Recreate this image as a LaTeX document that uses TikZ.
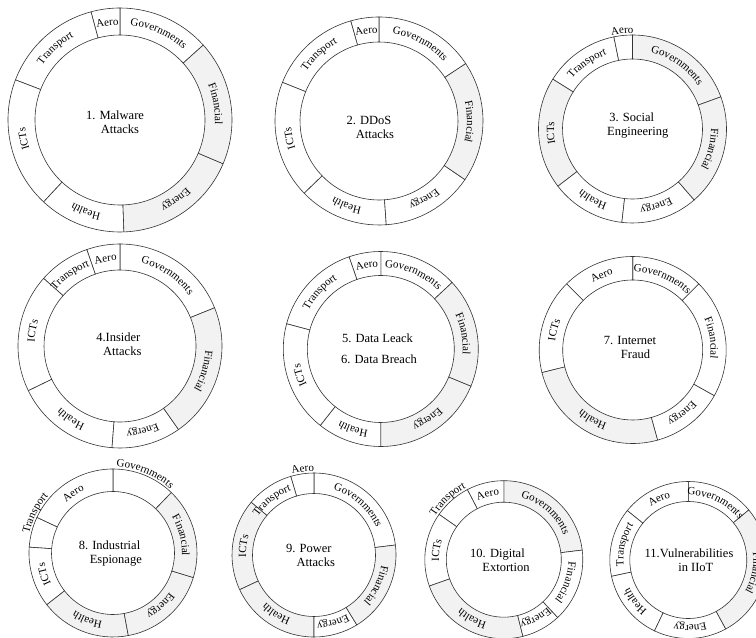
\documentclass[tikz,border=0pt]{standalone}
\usepackage{fontspec}
\setmainfont{Liberation Serif}
\usetikzlibrary{decorations.text}
\newcommand\lblfont{\fontsize{11}{12}\selectfont}
\newcommand\ctrfont{\fontsize{12.5}{14}\selectfont}
\tikzset{
  segline/.style={draw=black!80, line width=0.6pt},
  hot/.style={segline, fill=gray!10},
  cold/.style={segline, fill=white},
  ctr/.style={font=\ctrfont, align=center, inner sep=0pt},
}
\newcommand\ringseg[3]{%
  \path[#3] (#1:\Ro) arc[start angle=#1, end angle=#2, radius=\Ro] -- (#2:\Ri) arc[start angle=#2, end angle=#1, radius=\Ri] -- cycle;}
\newcommand\arclbl[3]{%
  \pgfmathsetmacro\lblA{#1+70}\pgfmathsetmacro\lblB{#1-70}%
  \path[decorate, decoration={text along path, text={|\lblfont|#3}, text align=center}] (\lblA:#2) arc[start angle=\lblA, end angle=\lblB, radius=#2];}
\begin{document}
\begin{tikzpicture}[x=1pt,y=1pt]
\useasboundingbox (0,0) rectangle (756,638);
\clip (0,0) rectangle (756,638);
\fill[white] (0,0) rectangle (756,638);

% Ring 1
\begin{scope}[shift={(120,518)}]\def\Ri{85}\def\Ro{112}\def\Lr{95}
\ringseg{42}{90}{cold}\ringseg{90}{105}{cold}\ringseg{105}{159}{cold}
\ringseg{159}{227}{cold}\ringseg{227}{272}{cold}\ringseg{272}{337}{hot}\ringseg{337}{402}{hot}
\arclbl{66}{\Lr}{Governments}\arclbl{97.5}{\Lr}{Aero}\arclbl{132}{\Lr}{Transport}
\arclbl{191}{\Lr}{ICTs}\arclbl{249.5}{\Lr}{Health}\arclbl{305}{\Lr}{Energy}\arclbl{9.5}{\Lr}{Financial}
\end{scope}
\node[ctr] (t1) at (115,516) {1. Malware\\\hspace*{10pt}Attacks};

% Ring 2
\begin{scope}[shift={(379,517)}]\def\Ri{79}\def\Ro{104}\def\Lr{88}
\ringseg{33.5}{90}{cold}\ringseg{90}{105.8}{cold}\ringseg{105.8}{158.2}{cold}
\ringseg{158.2}{224}{cold}\ringseg{224}{274}{cold}\ringseg{274}{325.7}{cold}\ringseg{325.7}{393.5}{hot}
\arclbl{62}{\Lr}{Governments}\arclbl{98}{\Lr}{Aero}\arclbl{132}{\Lr}{Transport}
\arclbl{191}{\Lr}{ICTs}\arclbl{249}{\Lr}{Health}\arclbl{300}{\Lr}{Energy}\arclbl{359.6}{\Lr}{Financial}
\end{scope}
\node[ctr] (t2) at (369,511) {2. DDoS\\\hspace*{12pt}Attacks};

% Ring 3
\begin{scope}[shift={(632.5,509)}]\def\Ri{70}\def\Ro{94}\def\Lr{78.5}
\ringseg{20}{90}{hot}\ringseg{90}{101.5}{cold}\ringseg{101.5}{148}{cold}
\ringseg{148}{217.5}{hot}\ringseg{217.5}{263.5}{cold}\ringseg{263.5}{311}{cold}\ringseg{311}{380}{hot}
\arclbl{55}{\Lr}{Governments}\arclbl{96}{96}{Aero}\arclbl{124.75}{\Lr}{Transport}
\arclbl{182.75}{\Lr}{ICTs}\arclbl{240.5}{\Lr}{Health}\arclbl{287}{\Lr}{Energy}\arclbl{345.5}{\Lr}{Financial}
\end{scope}
\node[ctr] (t3) at (631.7,512.5) {3. Social\\\hspace*{12pt}Engineering};

% Ring 4
\begin{scope}[shift={(120,292)}]\def\Ri{76}\def\Ro{102}\def\Lr{85.5}
\ringseg{22}{90}{cold}\ringseg{90}{109}{cold}\ringseg{109}{138.5}{cold}
\ringseg{138.5}{206}{cold}\ringseg{206}{265.5}{cold}\ringseg{265.5}{305}{cold}\ringseg{305}{382}{hot}
\arclbl{56}{\Lr}{Governments}\arclbl{99.5}{\Lr}{Aero}\arclbl{125}{\Lr}{Transport}
\arclbl{170}{\Lr}{ICTs}\arclbl{236}{\Lr}{Health}\arclbl{285}{\Lr}{Energy}\arclbl{343.5}{\Lr}{Financial}
\end{scope}
\node[ctr] (t4) at (118.3,294) {4.Insider\\\hspace*{8pt}Attacks};

% Ring 5
\begin{scope}[shift={(380.8,289)}]\def\Ri{73.5}\def\Ro{97.5}\def\Lr{82}
\ringseg{43}{90}{cold}\ringseg{90}{109}{cold}\ringseg{109}{165}{cold}
\ringseg{165}{231.7}{cold}\ringseg{231.7}{270}{cold}\ringseg{270}{337.6}{hot}\ringseg{337.6}{403}{hot}
\arclbl{66.5}{\Lr}{Governments}\arclbl{99.5}{\Lr}{Aero}\arclbl{137}{\Lr}{Transport}
\arclbl{198}{\Lr}{ICTs}\arclbl{250.8}{\Lr}{Health}\arclbl{303.8}{\Lr}{Energy}\arclbl{10.3}{\Lr}{Financial}
\end{scope}
\node[ctr] (t5) at (377.5,289.3) {5. Data Leack\\[6.5pt]\hspace*{3pt}6. Data Breach};

% Ring 7
\begin{scope}[shift={(632.7,288)}]\def\Ri{70}\def\Ro{93.5}\def\Lr{78}
\ringseg{45}{90}{cold}\ringseg{90}{135}{cold}\ringseg{135}{194}{cold}
\ringseg{194}{285.5}{hot}\ringseg{285.5}{330.8}{cold}\ringseg{330.8}{405}{cold}
\arclbl{67.5}{\Lr}{Governments}\arclbl{112.5}{\Lr}{Aero}
\arclbl{165.5}{\Lr}{ICTs}\arclbl{240}{\Lr}{Health}\arclbl{308}{\Lr}{Energy}\arclbl{8.5}{\Lr}{Financial}
\end{scope}
\node[ctr] (t7) at (630,291) {7. Internet\\\hspace*{11pt}Fraud};

% Ring 8
\begin{scope}[shift={(113,85)}]\def\Ri{61.5}\def\Ro{84}\def\Lr{69}
\ringseg{46}{90}{cold}\ringseg{90}{155}{cold}\ringseg{155}{176}{cold}
\ringseg{176}{218}{cold}\ringseg{218}{280.5}{hot}\ringseg{280.5}{343}{hot}\ringseg{343}{406}{hot}
\arclbl{68}{86}{Governments}\arclbl{123.5}{\Lr}{Aero}\arclbl{153}{86}{Transport}
\arclbl{197}{\Lr}{ICTs}\arclbl{249}{\Lr}{Health}\arclbl{312}{\Lr}{Energy}\arclbl{14.5}{\Lr}{Financial}
\end{scope}
\node[ctr] (t8) at (109.5,84) {8. Industrial\\\hspace*{12.6pt}Espionage};

% Ring 9
\begin{scope}[shift={(314,83)}]\def\Ri{61.5}\def\Ro{82}\def\Lr{68}
\ringseg{7}{90}{cold}\ringseg{90}{106.5}{cold}\ringseg{106.5}{140}{cold}
\ringseg{140}{205}{hot}\ringseg{205}{270}{hot}\ringseg{270}{301.5}{cold}\ringseg{301.5}{367}{hot}
\arclbl{48.5}{\Lr}{Governments}\arclbl{97.5}{84}{Aero}\arclbl{127.5}{\Lr}{Transport}
\arclbl{172.5}{\Lr}{ICTs}\arclbl{237.5}{\Lr}{Health}\arclbl{285.75}{\Lr}{Energy}\arclbl{334}{\Lr}{Financial}
\end{scope}
\node[ctr] (t9) at (308.8,83) {9. Power\\\hspace*{14pt}Attacks};

% Ring 10
\begin{scope}[shift={(503.8,78.3)}]\def\Ri{57.5}\def\Ro{79}\def\Lr{64.75}
\ringseg{7}{90}{hot}\ringseg{90}{117.5}{cold}\ringseg{117.5}{145}{cold}
\ringseg{145}{199.5}{cold}\ringseg{199.5}{284}{hot}\ringseg{284}{313}{cold}\ringseg{313}{367}{cold}
\arclbl{48.5}{\Lr}{Governments}\arclbl{103.75}{\Lr}{Aero}\arclbl{133}{81}{Transport}
\arclbl{172}{\Lr}{ICTs}\arclbl{241.75}{\Lr}{Health}\arclbl{298.5}{\Lr}{Energy}\arclbl{340}{\Lr}{Financial}
\end{scope}
\node[ctr] (t10) at (497.5,78) {10. Digital\\\hspace*{17pt}Extortion};

% Ring 11
\begin{scope}[shift={(688.3,78)}]\def\Ri{58.5}\def\Ro{78.5}\def\Lr{65}
\ringseg{39.6}{90}{cold}\ringseg{90}{141}{cold}\ringseg{141}{192}{cold}
\ringseg{192}{244.5}{cold}\ringseg{244.5}{298.5}{cold}\ringseg{298.5}{399.6}{hot}
\arclbl{64.8}{\Lr}{Governments}\arclbl{115.5}{\Lr}{Aero}\arclbl{166.5}{\Lr}{Transport}
\arclbl{218}{\Lr}{Health}\arclbl{271.5}{\Lr}{Energy}\arclbl{349}{\Lr}{Financial}
\end{scope}
\node[ctr] (t11) at (689,78) {11.Vulnerabilities\\\hspace*{13.6pt}in IIoT};
\end{tikzpicture}
\end{document}
